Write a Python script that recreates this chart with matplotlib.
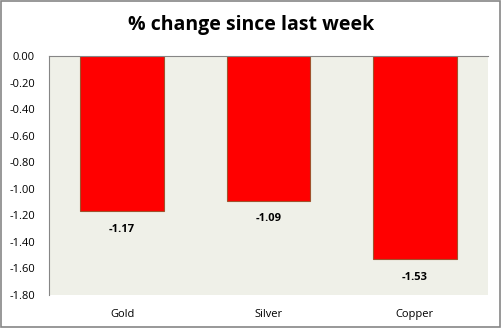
import matplotlib.pyplot as plt
from matplotlib.patches import Rectangle

metals = ["Gold", "Silver", "Copper"]
changes = [-1.17, -1.09, -1.53]
yticks = [0.0, -0.2, -0.4, -0.6, -0.8, -1.0, -1.2, -1.4, -1.6, -1.8]

plt.rcParams['font.family'] = ['Open Sans', 'DejaVu Sans']

fig = plt.figure(figsize=(5.02, 3.28), dpi=100)
ax = fig.add_axes([49 / 502, 1 - 295 / 328, (488 - 49) / 502, (295 - 56) / 328])
ax.set_facecolor("#eff0e8")

x = range(len(metals))
ax.bar(x, changes, width=0.57, color="#ff0000", edgecolor="#a0522d", linewidth=0.8)
for i, v in zip(x, changes):
    ax.annotate(f"{v:.2f}", (i, v), xytext=(0, -9), textcoords="offset points",
                ha="center", va="top", fontsize=8, fontweight="bold")

ax.set_xlim(-0.5, len(metals) - 0.5)
ax.set_ylim(-1.8, 0)
ax.set_yticks(yticks)
ax.set_yticklabels([f"{t:.2f}" for t in yticks], fontsize=8)
ax.set_xticks(list(x))
ax.set_xticklabels(metals, fontsize=8)
ax.tick_params(axis="x", length=0, pad=10)
ax.tick_params(axis="y", length=0, pad=10)
for s in ["right", "bottom"]:
    ax.spines[s].set_visible(False)
ax.spines["left"].set_color("#868686")
ax.spines["top"].set_color("#868686")

fig.text(0.5, 1 - 25 / 328, "% change since last week", ha="center", va="center",
         fontsize=14, fontweight="bold")
fig.patches.append(Rectangle((0.002, 0.003), 0.995, 0.994, transform=fig.transFigure,
                             fill=False, edgecolor="#868686", linewidth=1.2))

fig.savefig("out.png", dpi=100)
